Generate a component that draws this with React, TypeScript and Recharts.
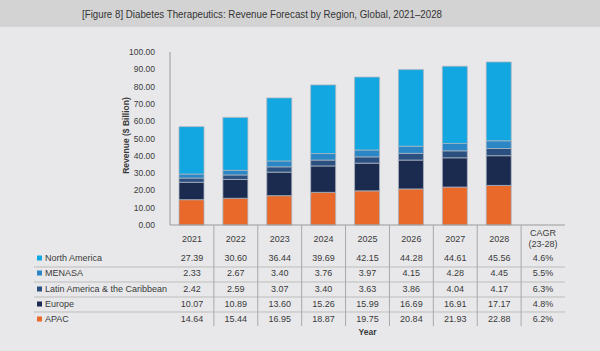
import React from 'react';
import { BarChart, Bar, XAxis, YAxis } from 'recharts';

const years = ['2021', '2022', '2023', '2024', '2025', '2026', '2027', '2028'];
const northAmerica = [27.39, 30.6, 36.44, 39.69, 42.15, 44.28, 44.61, 45.56];
const menasa = [2.33, 2.67, 3.4, 3.76, 3.97, 4.15, 4.28, 4.45];
const latinAmerica = [2.42, 2.59, 3.07, 3.4, 3.63, 3.86, 4.04, 4.17];
const europe = [10.07, 10.89, 13.6, 15.26, 15.99, 16.69, 16.91, 17.17];
const apac = [14.64, 15.44, 16.95, 18.87, 19.75, 20.84, 21.93, 22.88];
const cagrLabels = ['4.6%', '5.5%', '6.3%', '4.8%', '6.2%'];
const seriesNames = ['North America', 'MENASA', 'Latin America & the Caribbean', 'Europe', 'APAC'];
const seriesColors = ['#12a7e0', '#2b86c6', '#2b4f7e', '#1b2b50', '#e8692a'];
const yTicks = [0, 10, 20, 30, 40, 50, 60, 70, 80, 90, 100];

const seriesValues = [northAmerica, menasa, latinAmerica, europe, apac];

const data = [
  ...years.map((y, i) => ({
    year: y,
    na: northAmerica[i],
    menasa: menasa[i],
    latin: latinAmerica[i],
    europe: europe[i],
    apac: apac[i],
  })),
  { year: 'CAGR' },
];

const PLOT_LEFT = 170;
const PLOT_RIGHT = 565;
const BAND = (PLOT_RIGHT - PLOT_LEFT) / data.length;
const ROW_OFFSETS = [33, 48, 64, 79, 94];
const LINE_OFFSETS = [42, 57, 72, 87];
const TEXT = '#3a3a3a';
const FONT = '"Liberation Sans", Arial, sans-serif';
const FS = 9;

const TableTick = (props: any) => {
  const { x, y, payload, index } = props;
  const isCagr = payload.value === 'CAGR';
  const colIdx = years.indexOf(payload.value);
  const els: any[] = [];
  if (isCagr) {
    els.push(
      <text key="c1" x={x} y={y + 8} textAnchor="middle" dominantBaseline="central" fontSize={FS} fill={TEXT}>CAGR</text>,
      <text key="c2" x={x} y={y + 19} textAnchor="middle" dominantBaseline="central" fontSize={FS} fill={TEXT}>(23-28)</text>
    );
  } else {
    els.push(
      <text key="yr" x={x} y={y + 14} textAnchor="middle" dominantBaseline="central" fontSize={FS} fill={TEXT}>{payload.value}</text>
    );
  }
  ROW_OFFSETS.forEach((off, r) => {
    const v = isCagr ? cagrLabels[r] : seriesValues[r][colIdx].toFixed(2);
    els.push(
      <text key={'v' + r} x={x} y={y + off} textAnchor="middle" dominantBaseline="central" fontSize={FS} fill={TEXT}>{v}</text>
    );
  });
  if (index > 0) {
    els.push(
      <line key="vl" x1={x - BAND / 2} x2={x - BAND / 2} y1={y} y2={y + 101} stroke="#a8a8a8" strokeWidth={1} />
    );
  }
  if (index === 0) {
    LINE_OFFSETS.forEach((off, k) => {
      els.push(
        <line key={'hl' + k} x1={34} x2={PLOT_RIGHT} y1={y + off} y2={y + off} stroke="#bdbdbd" strokeWidth={1} />
      );
    });
    seriesNames.forEach((name, r) => {
      els.push(
        <rect key={'sq' + r} x={37} y={y + ROW_OFFSETS[r] - 2.5} width={5} height={5} fill={seriesColors[r]} />,
        <text key={'nm' + r} x={45} y={y + ROW_OFFSETS[r]} dominantBaseline="central" fontSize={FS} fill={TEXT}>{name}</text>
      );
    });
    els.push(
      <text key="yearlbl" x={(PLOT_LEFT + PLOT_RIGHT) / 2} y={y + 107} textAnchor="middle" dominantBaseline="central" fontSize={8.5} fontWeight="bold" fill={TEXT}>Year</text>
    );
  }
  return <g fontFamily={FONT}>{els}</g>;
};

const YLabel = (props: any) => {
  const { viewBox } = props;
  const cy = viewBox.y + viewBox.height / 2 - 3;
  const cx = 126;
  return (
    <text x={cx} y={cy} transform={`rotate(-90, ${cx}, ${cy})`} textAnchor="middle" dominantBaseline="central" fontSize={8.5} fontWeight="bold" fill={TEXT} fontFamily={FONT}>
      Revenue ($ Billion)
    </text>
  );
};

const sep = '#a9b4c0';

export default function App() {
  return (
    <div style={{ position: 'absolute', left: 0, top: 0, width: 600, height: 351, background: '#e8e8ea', fontFamily: FONT }}>
      <svg style={{ position: 'absolute', left: 0, top: 0 }} width={600} height={27}>
        <rect x={0} y={0} width={600} height={27} fill="#d3d3d3" />
        <text x={82} y={14} dominantBaseline="central" fontSize={10} fill="#333" fontFamily={FONT} textLength={360} lengthAdjust="spacingAndGlyphs">
          [Figure 8] Diabetes Therapeutics: Revenue Forecast by Region, Global, 2021–2028
        </text>
      </svg>
      <div style={{ position: 'absolute', left: 0, top: 0 }}>
        <BarChart width={600} height={351} data={data} margin={{ top: 52, right: 35, left: 0, bottom: 0 }} barSize={25}>
          <YAxis
            width={170}
            domain={[0, 100]}
            ticks={yTicks}
            interval={0}
            tickFormatter={(v: number) => v.toFixed(2)}
            tick={{ fontSize: 8.5, fill: TEXT, fontFamily: FONT }}
            tickLine={false}
            tickMargin={9}
            axisLine={{ stroke: '#9a9a9a' }}
            label={<YLabel />}
          />
          <XAxis
            dataKey="year"
            height={126}
            interval={0}
            tickLine={false}
            tickSize={0}
            tickMargin={0}
            axisLine={{ stroke: '#9a9a9a' }}
            tick={<TableTick />}
          />
          <Bar dataKey="apac" stackId="a" fill={seriesColors[4]} stroke={sep} strokeWidth={0.8} isAnimationActive={false} />
          <Bar dataKey="europe" stackId="a" fill={seriesColors[3]} stroke={sep} strokeWidth={0.8} isAnimationActive={false} />
          <Bar dataKey="latin" stackId="a" fill={seriesColors[2]} stroke={sep} strokeWidth={0.8} isAnimationActive={false} />
          <Bar dataKey="menasa" stackId="a" fill={seriesColors[1]} stroke={sep} strokeWidth={0.8} isAnimationActive={false} />
          <Bar dataKey="na" stackId="a" fill={seriesColors[0]} stroke={sep} strokeWidth={0.8} isAnimationActive={false} />
        </BarChart>
      </div>
    </div>
  );
}
